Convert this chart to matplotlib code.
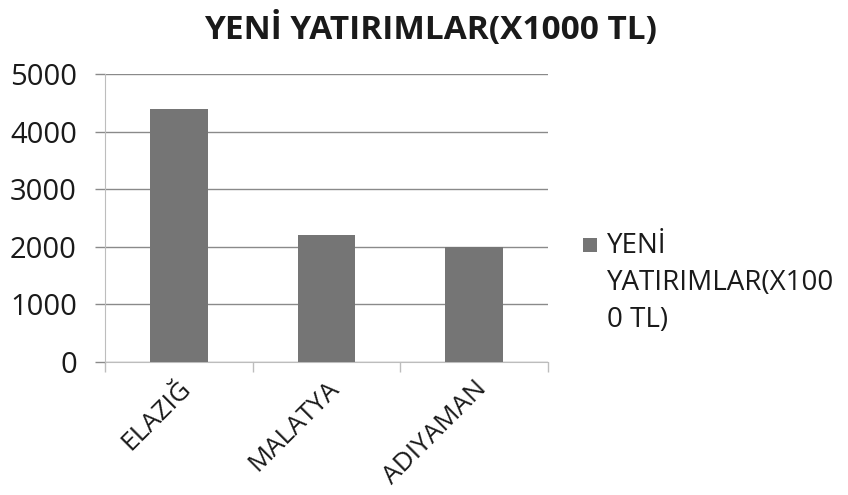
import matplotlib
matplotlib.use("Agg")
import matplotlib.pyplot as plt
from matplotlib.patches import Rectangle

categories = ["ELAZIĞ", "MALATYA", "ADIYAMAN"]
values = [4400, 2200, 2000]
yticks = [0, 1000, 2000, 3000, 4000, 5000]
title = "YENİ YATIRIMLAR(X1000 TL)"
legend_lines = ["YENİ", "YATIRIMLAR(X100", "0 TL)"]

plt.rcParams['font.family'] = ['Open Sans', 'DejaVu Sans']

fig = plt.figure(figsize=(8.48, 4.95), dpi=100)
ax = fig.add_axes([105/848, 1-362/495, (548-105)/848, (362-74)/495])

x = list(range(len(categories)))
ax.bar(x, values, width=0.39, color="#757575", zorder=3)

ax.set_xlim(-0.5, len(categories) - 0.5)
ax.set_ylim(0, 5000)
ax.set_yticks(yticks)
ax.set_yticklabels([str(v) for v in yticks], fontsize=21, color="#1a1a1a")
ax.yaxis.grid(True, color="#8a8a8a", linewidth=1, zorder=0)
ax.tick_params(axis='y', length=7.2, color="#8a8a8a", width=1, pad=13)

ax.set_xticks([i - 0.5 for i in range(len(categories) + 1)])
ax.set_xticklabels([])
ax.set_xticks(x, minor=True)
ax.set_xticklabels(categories, minor=True, rotation=45, ha='right',
                   rotation_mode='anchor', fontsize=19, color="#1a1a1a")
ax.tick_params(axis='x', which='minor', length=0, pad=10)
ax.tick_params(axis='x', which='major', length=7.2, color="#bdbdbd", width=1)

for s in ['top', 'right']:
    ax.spines[s].set_visible(False)
ax.spines['left'].set_color("#bdbdbd")
ax.spines['bottom'].set_color("#bdbdbd")

fig.text(431/848, 1-30/495, title, ha='center', va='center',
         fontsize=24, fontweight='bold', color="#1a1a1a")

fig.patches.append(Rectangle((583/848, 1-252/495), 14/848, 14/495,
                             transform=fig.transFigure, facecolor="#757575",
                             edgecolor="none"))
for i, line in enumerate(legend_lines):
    fig.text(607/848, 1-(246 + 37*i)/495, line, ha='left', va='center',
             fontsize=20, color="#1a1a1a")

fig.savefig("out.png", dpi=100)
